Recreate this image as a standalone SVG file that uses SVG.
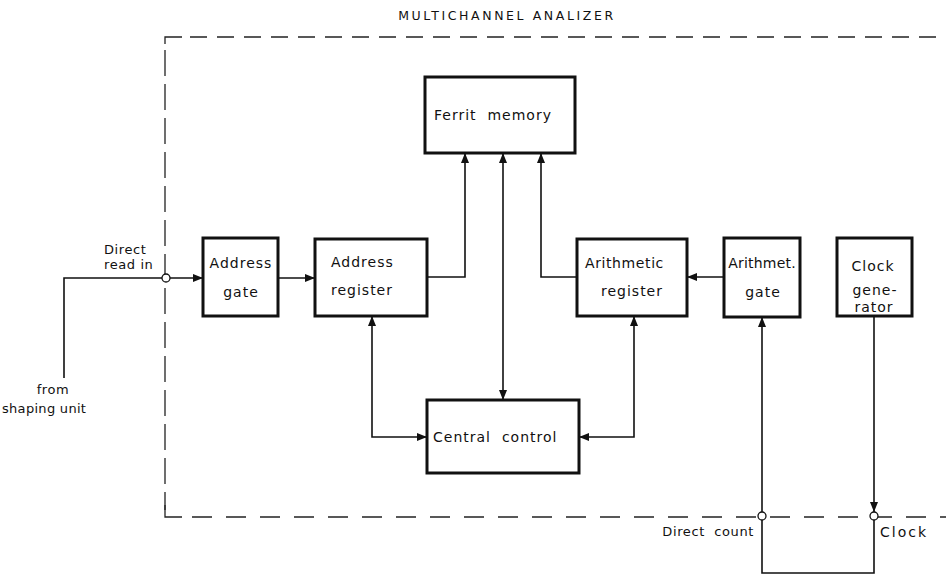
<svg xmlns="http://www.w3.org/2000/svg" width="946" height="576" viewBox="0 0 946 576">
  <defs>
    <marker id="arr" viewBox="0 0 10 8" refX="10" refY="4" markerWidth="10" markerHeight="8" markerUnits="userSpaceOnUse" orient="auto-start-reverse">
      <path d="M0,0 L10,4 L0,8 Z" fill="#111"/>
    </marker>
    <style>
      .box { fill: #fff; stroke: #111; stroke-width: 3; }
      .wire { fill: none; stroke: #111; stroke-width: 1.6; }
      .frame { fill: none; stroke: #222; stroke-width: 1.3; }
      .port { fill: #fff; stroke: #111; stroke-width: 1.3; }
      text { font-family: "DejaVu Sans", "Liberation Sans", sans-serif; font-size: 14px; fill: #111; letter-spacing: 1px; white-space: pre; }
      .c { text-anchor: middle; }
      .e { text-anchor: end; }
      .s { font-size: 13px; letter-spacing: 0.6px; }
    </style>
  </defs>
  <rect width="946" height="576" fill="#fff"/>

  <!-- analyser enclosure (dashed) -->
  <g id="enclosure">
    <text class="c" x="507" y="20" style="font-size:12.5px;letter-spacing:2.6px">MULTICHANNEL ANALIZER</text>
    <path class="frame" d="M165,44 V37 H182"/>
    <path class="frame" d="M190,37 H946" stroke-dasharray="17 10"/>
    <path class="frame" d="M165,50 V510" stroke-dasharray="26 8"/>
    <path class="frame" d="M165,505 V517 H182"/>
    <path class="frame" d="M192,517 H946" stroke-dasharray="20 14"/>
  </g>

  <g id="ferrit-memory">
    <rect class="box" x="425" y="77" width="150" height="76"/>
    <text class="c" x="493" y="120">Ferrit  memory</text>
  </g>
  <g id="address-gate">
    <rect class="box" x="203" y="238" width="75" height="78"/>
    <text class="c" x="241" y="268">Address</text>
    <text class="c" x="241" y="297">gate</text>
  </g>
  <g id="address-register">
    <rect class="box" x="315" y="239" width="112" height="77"/>
    <text x="331" y="267">Address</text>
    <text x="331" y="295">register</text>
  </g>
  <g id="arithmetic-register">
    <rect class="box" x="577" y="239" width="110" height="77"/>
    <text x="585" y="268" style="letter-spacing:0.6px">Arithmetic</text>
    <text x="601" y="296">register</text>
  </g>
  <g id="arithmet-gate">
    <rect class="box" x="724" y="238" width="76" height="79"/>
    <text class="c" x="762" y="268" style="letter-spacing:0.2px">Arithmet.</text>
    <text class="c" x="763" y="297">gate</text>
  </g>
  <g id="clock-generator">
    <rect class="box" x="837" y="238" width="75" height="78"/>
    <text class="c" x="873" y="271">Clock</text>
    <text class="c" x="875" y="295">gene-</text>
    <text class="c" x="874" y="312">rator</text>
  </g>
  <g id="central-control">
    <rect class="box" x="427" y="400" width="152" height="73"/>
    <text x="433" y="442">Central  control</text>
  </g>

  <!-- connectors -->
  <g id="connectors">
    <path class="wire" d="M64,378 V278 H162"/>
    <path class="wire" d="M170,278 H203" marker-end="url(#arr)"/>
    <path class="wire" d="M278,278 H315" marker-end="url(#arr)"/>
    <path class="wire" d="M427,277 H465 V153" marker-end="url(#arr)"/>
    <path class="wire" d="M503,153 V400" marker-start="url(#arr)" marker-end="url(#arr)"/>
    <path class="wire" d="M577,277 H541 V153" marker-end="url(#arr)"/>
    <path class="wire" d="M372,316 V437 H427" marker-start="url(#arr)" marker-end="url(#arr)"/>
    <path class="wire" d="M634,316 V437 H579" marker-start="url(#arr)" marker-end="url(#arr)"/>
    <path class="wire" d="M724,277 H687" marker-end="url(#arr)"/>
    <path class="wire" d="M762,512 V317" marker-end="url(#arr)"/>
    <path class="wire" d="M874,316 V512" marker-end="url(#arr)"/>
    <path class="wire" d="M762,520 V573 H874 V520"/>
    <circle class="port" cx="166" cy="278" r="4"/>
    <circle class="port" cx="762" cy="516" r="4"/>
    <circle class="port" cx="874" cy="516" r="4"/>
  </g>

  <!-- terminal labels -->
  <g id="labels">
    <text class="s" x="104" y="254">Direct</text>
    <text class="s" x="104" y="269">read in</text>
    <text class="c s" x="53" y="394">from</text>
    <text class="s" x="2" y="413" style="letter-spacing:0.3px">shaping unit</text>
    <text class="e s" x="754" y="536">Direct  count</text>
    <text x="880" y="537" style="letter-spacing:2px">Clock</text>
  </g>
</svg>
